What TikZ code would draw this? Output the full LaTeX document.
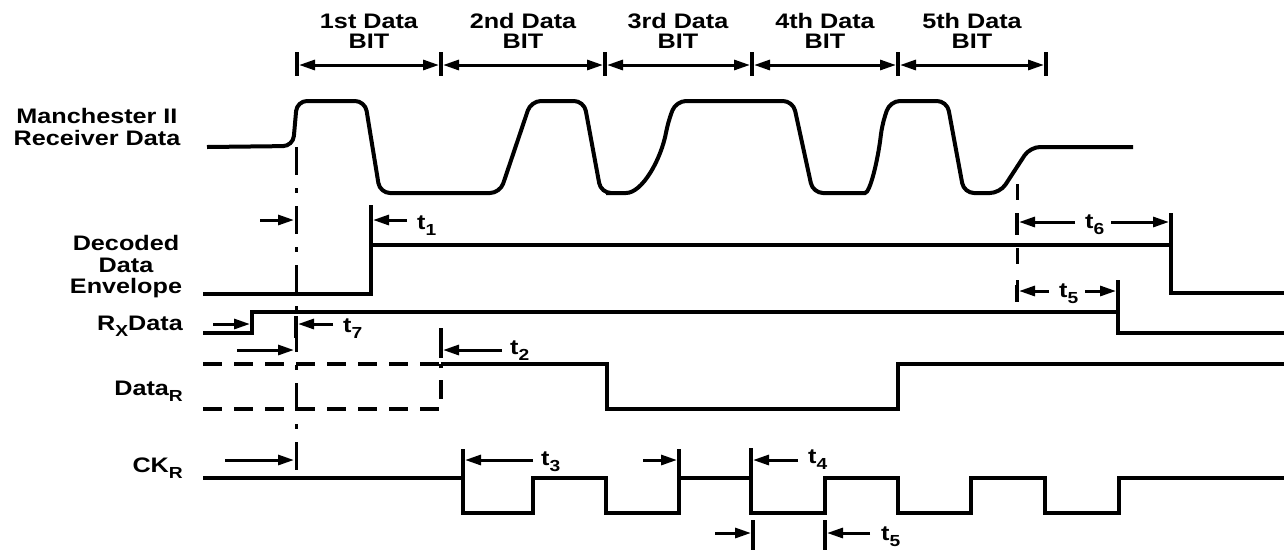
\documentclass[tikz,border=0pt]{standalone}
\usepackage{fontspec}
\setmainfont{Liberation Sans}[FakeStretch=1.2]
\usepackage{tikz}
\usetikzlibrary{arrows.meta}
\newcommand{\tsub}[1]{\raisebox{-6pt}{\fontsize{16}{16}\selectfont #1}}

\begin{document}
\begin{tikzpicture}[x=1pt, y=-1pt,
    wave/.style={line width=4pt},
    tick/.style={line width=3.5pt},
    dim/.style={line width=3pt, -{Triangle[length=16pt,width=10pt]}},
    dimboth/.style={line width=3pt, {Triangle[length=16pt,width=10pt]}-{Triangle[length=16pt,width=10pt]}},
    lbl/.style={font=\fontsize{21}{21}\selectfont\bfseries, inner sep=0pt}]
    \useasboundingbox (0,0) rectangle (1284,550);

    % Bit cells
    \foreach \x/\n [count=\i] in {369/1st, 523/2nd, 678/3rd, 825/4th, 972/5th} {
        \node[lbl, anchor=base] (bit\i) at (\x,28) {\n\ Data};
        \node[lbl, anchor=base] (bitb\i) at (\x,48) {BIT};
    }
    \foreach \x in {297, 441, 605, 752, 898, 1046}
        \draw[tick] (\x,52) -- (\x,76);
    \foreach \a/\b in {297/441, 441/605, 605/752, 752/898, 898/1046}
        \draw[dimboth] ({\a+2},65) -- ({\b-2},65);

    % Signal names
    \node[lbl, anchor=base] (man1) at (97,123) {Manchester II};
    \node[lbl, anchor=base] (man2) at (97,145) {Receiver Data};
    \node[lbl, anchor=base] (dec1) at (126,250) {Decoded};
    \node[lbl, anchor=base] (dec2) at (126,272) {Data};
    \node[lbl, anchor=base] (dec3) at (126,293) {Envelope};
    \node[lbl, anchor=base east] (rxd) at (183,330) {R\tsub{X}Data};
    \node[lbl, anchor=base east] (datr) at (183,395) {Data\tsub{R}};
    \node[lbl, anchor=base east] (ckr) at (183,472) {CK\tsub{R}};

    % Manchester input
    \draw[wave, rounded corners=10pt] (207,147) -- (293,146) -- (297,101) -- (365,101)
        -- (380,193) -- (500,193) -- (531,101) -- (584,101) -- (601,193) -- (616,193)
        .. controls (642,193) and (661,160) .. (668,122) -- (676,101) -- (793,101)
        -- (813,193) -- (855,193) .. controls (870,193) and (878,160) .. (882,125)
        -- (890,101) -- (947,101) -- (964,193) -- (1000,193) -- (1030,147) -- (1133,147);

    % Decoded outputs
    \draw[wave] (203,294) -- (371,294) -- (371,245) -- (1171,245) -- (1171,293) -- (1284,293);
    \draw[wave] (203,333) -- (252,333) -- (252,312) -- (1118,312) -- (1118,333) -- (1284,333);
    \draw[wave, dash pattern=on 19pt off 12pt] (203,364) -- (441,364);
    \draw[wave, dash pattern=on 19pt off 12pt] (203,409) -- (441,409) -- (441,364);
    \draw[wave] (441,364) -- (607,364) -- (607,409) -- (898,409) -- (898,364) -- (1284,364);

    % Clock
    \draw[wave] (203,478) -- (463,478) -- (463,513) -- (533,513) -- (533,478) -- (606,478)
        -- (606,513) -- (679,513) -- (679,478) -- (751,478) -- (751,513) -- (825,513)
        -- (825,478) -- (898,478) -- (898,513) -- (971,513) -- (971,478) -- (1045,478)
        -- (1045,513) -- (1119,513) -- (1119,478) -- (1284,478);

    % Reference edges
    \draw[line width=3pt, dash pattern=on 28pt off 13pt on 5pt off 13pt] (296,147) -- (296,470);
    \draw[line width=3pt, dash pattern=on 16pt off 16pt] (1017,184) -- (1017,300);

    % t1 and t7
    \draw[dim] (260,220) -- (294,220);
    \draw[tick] (371,205) -- (371,245);
    \draw[dim] (407,220) -- (373,220);
    \node[lbl, anchor=base west] (tone) at (417,229) {t\tsub{1}};
    \draw[dim] (213,324) -- (250,324);
    \draw[tick] (296,316) -- (296,338);
    \draw[dim] (333,324) -- (298,324);
    \node[lbl, anchor=base west] (tseven) at (343,332) {t\tsub{7}};

    % t2
    \draw[dim] (237,350) -- (294,350);
    \draw[tick] (441,328) -- (441,358);
    \draw[dim] (502,350) -- (443,350);
    \node[lbl, anchor=base west] (ttwo) at (510,354) {t\tsub{2}};

    % t3, t4 and t5 on the clock
    \draw[dim] (225,460) -- (294,460);
    \draw[tick] (463,449) -- (463,476);
    \draw[dim] (533,460) -- (465,460);
    \node[lbl, anchor=base west] (tthree) at (541,465) {t\tsub{3}};
    \draw[dim] (643,460) -- (677,460);
    \draw[tick] (679,449) -- (679,476);
    \draw[tick] (751,448) -- (751,476);
    \draw[dim] (798,460) -- (753,460);
    \node[lbl, anchor=base west] (tfour) at (808,463) {t\tsub{4}};
    \draw[dim] (715,533) -- (751,533);
    \draw[tick] (753,520) -- (753,550);
    \draw[tick] (825,520) -- (825,550);
    \draw[dim] (870,533) -- (827,533);
    \node[lbl, anchor=base west] (tfiveb) at (881,540) {t\tsub{5}};

    % t6 and t5 at the end of the message
    \draw[tick] (1017,213) -- (1017,235);
    \draw[dim] (1075,222) -- (1019,222);
    \node[lbl, anchor=base west] (tsix) at (1085,228) {t\tsub{6}};
    \draw[dim] (1111,222) -- (1169,222);
    \draw[tick] (1171,213) -- (1171,245);
    \draw[tick] (1017,285) -- (1017,302);
    \draw[dim] (1049,291) -- (1019,291);
    \node[lbl, anchor=base west] (tfive) at (1059,297) {t\tsub{5}};
    \draw[dim] (1085,291) -- (1116,291);
    \draw[tick] (1118,280) -- (1118,312);
\end{tikzpicture}
\end{document}
